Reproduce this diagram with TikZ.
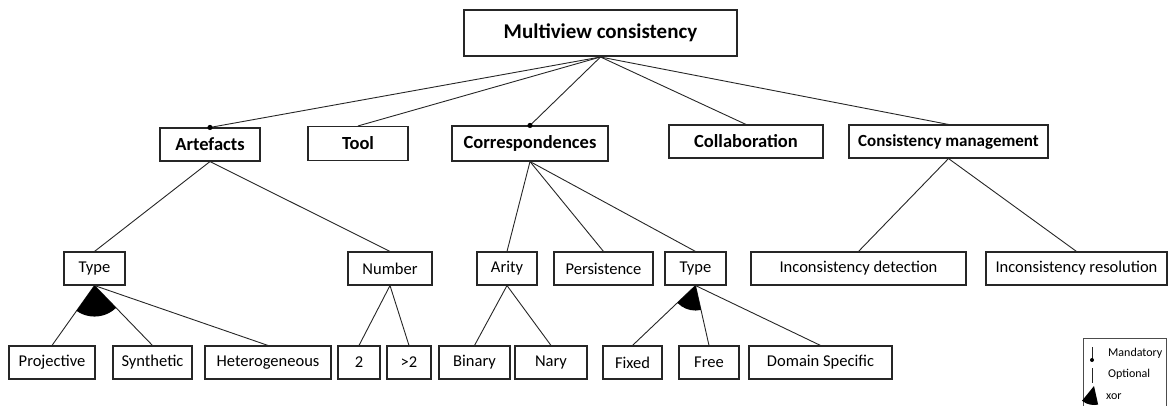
\documentclass[tikz,border=0pt]{standalone}
\usepackage{fontspec}
\setmainfont{Carlito}
\usetikzlibrary{calc}
\tikzset{
  fbox/.style={draw=black!85, line width=1.1pt, inner sep=0pt, align=center,
    minimum height=33pt, font=\fontsize{16.5}{18}\selectfont},
  fboxb/.style={fbox, font=\fontsize{18.5}{20}\selectfont\bfseries},
  rootbox/.style={fbox, line width=2pt, font=\fontsize{21}{24}\selectfont\bfseries},
  edge/.style={draw=black!85, line width=0.9pt},
  mdot/.style={fill=black},
  legtxt/.style={inner sep=0pt, anchor=west, font=\fontsize{12}{14}\selectfont}
}
\begin{document}
\begin{tikzpicture}[x=1pt,y=-1pt]
\useasboundingbox (0,0) rectangle (1168,406);
% root
\node[rootbox, minimum width=273pt, minimum height=46pt] (root) at (600.5,33) {Multiview consistency};
% level 1
\node[fboxb, minimum width=100pt] (art) at (210,144.5) {Artefacts};
\node[fboxb, minimum width=100pt, minimum height=34pt] (tool) at (358,143.5) {Tool};
\node[fboxb, minimum width=156pt, minimum height=35pt] (cor) at (530,143.5) {Correspondences};
\node[fboxb, minimum width=154pt] (col) at (746,141.5) {Collaboration};
\node[fboxb, minimum width=199pt, font=\fontsize{17}{19}\selectfont\bfseries] (cm) at (948.5,141.5) {Consistency management};
% level 2
\node[fbox, minimum width=61pt] (ty1) at (94.5,268.5) {Type};
\node[fbox, minimum width=84pt] (num) at (390,268.5) {Number};
\node[fbox, minimum width=60pt] (ari) at (507,268.5) {Arity};
\node[fbox, minimum width=99pt] (per) at (603.5,268.5) {Persistence};
\node[fbox, minimum width=61pt] (ty2) at (695.5,268.5) {Type};
\node[fbox, minimum width=215pt] (idet) at (858.5,268.5) {Inconsistency detection};
\node[fbox, minimum width=181pt] (ires) at (1076.5,268.5) {Inconsistency resolution};
% level 3
\node[fbox, minimum width=86pt] (proj) at (52,362.5) {Projective};
\node[fbox, minimum width=79pt] (syn) at (152.5,362.5) {Synthetic};
\node[fbox, minimum width=126pt] (het) at (268,362.5) {Heterogeneous};
\node[fbox, minimum width=42pt] (two) at (359,362.5) {2};
\node[fbox, minimum width=44pt] (gtwo) at (409,362.5) {>2};
\node[fbox, minimum width=71pt] (bin) at (474.5,362.5) {Binary};
\node[fbox, minimum width=72pt] (nar) at (551,362.5) {Nary};
\node[fbox, minimum width=59pt] (fix) at (632.5,362.5) {Fixed};
\node[fbox, minimum width=60pt] (fre) at (709,362.5) {Free};
\node[fbox, minimum width=143pt] (dom) at (820.5,362.5) {Domain Specific};
% edges from root
\foreach \c in {art,tool,cor,col,cm} \draw[edge] (root.south) -- (\c.north);
\fill[mdot] (art.north) circle (2.6pt);
\fill[mdot] (cor.north) circle (2.6pt);
% artefacts
\foreach \c in {ty1,num} \draw[edge] (art.south) -- (\c.north);
\foreach \c in {proj,syn,het} \draw[edge] (ty1.south) -- (\c.north);
\begin{scope}
  \clip (ty1.south) -- ($(ty1.south)!100pt!(proj.north)$) -- ($(ty1.south)!100pt!(syn.north)$) -- cycle;
  \fill (ty1.south) circle (31pt);
\end{scope}
\foreach \c in {two,gtwo} \draw[edge] (num.south) -- (\c.north);
% correspondences
\foreach \c in {ari,per,ty2} \draw[edge] (cor.south) -- (\c.north);
\foreach \c in {bin,nar} \draw[edge] (ari.south) -- (\c.north);
\foreach \c in {fix,fre,dom} \draw[edge] (ty2.south) -- (\c.north);
\begin{scope}
  \clip (ty2.south) -- ($(ty2.south)!100pt!(fix.north)$) -- ($(ty2.south)!100pt!(fre.north)$) -- cycle;
  \fill (ty2.south) circle (25pt);
\end{scope}
% consistency management
\foreach \c in {idet,ires} \draw[edge] (cm.south) -- (\c.north);
% legend
\draw[draw=black!70, line width=0.8pt] (1083,406) -- (1083,338) -- (1166,338) -- (1166,406);
\node[legtxt] (lmand) at (1108,353) {Mandatory};
\node[legtxt] (lopt) at (1108,374) {Optional};
\node[legtxt] (lxor) at (1106,397) {xor};
\coordinate (m1) at (1092,347);
\coordinate (m2) at (1092,360);
\draw[edge, line width=0.8pt] (m1) -- (m2);
\fill[mdot] (m2) circle (2pt);
\coordinate (o1) at (1092,368);
\coordinate (o2) at (1092,383);
\draw[edge, line width=0.8pt] (o1) -- (o2);
\coordinate (xa) at (1094,386);
\coordinate (xl) at (1081,402);
\coordinate (xr) at (1098,404);
\begin{scope}
  \clip (xa) -- ($(xa)!40pt!(xl)$) -- ($(xa)!40pt!(xr)$) -- cycle;
  \fill (xa) circle (19pt);
\end{scope}
\end{tikzpicture}
\end{document}
